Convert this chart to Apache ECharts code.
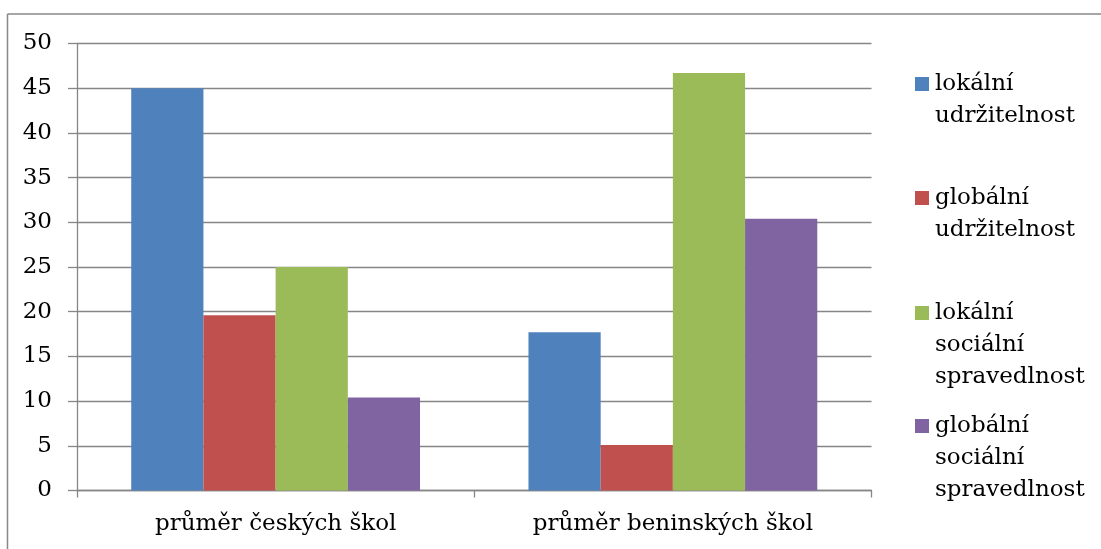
<!DOCTYPE html>
<html><head><meta charset="utf-8">
<script src="https://cdn.jsdelivr.net/npm/echarts@6/dist/echarts.min.js"></script>
<style>html,body{margin:0;padding:0;background:#fff;overflow:hidden}#c{width:1101px;height:549px}</style>
</head><body><div id="c"></div>
<script>
const categories = ['průměr českých škol', 'průměr beninských škol'];
const seriesNames = ['lokální udržitelnost', 'globální udržitelnost', 'lokální sociální spravedlnost', 'globální sociální spravedlnost'];
const legendLines = [['lokální','udržitelnost'], ['globální','udržitelnost'], ['lokální','sociální','spravedlnost'], ['globální','sociální','spravedlnost']];
const lokalniUdrzitelnost = [45.0, 17.7];
const globalniUdrzitelnost = [19.6, 5.1];
const lokalniSocialni = [25.0, 46.7];
const globalniSocialni = [10.4, 30.4];
const yTicks = [0, 5, 10, 15, 20, 25, 30, 35, 40, 45, 50];
const colors = ['#4F81BD', '#C0504D', '#9BBB59', '#8064A2'];

const FONT = 'DejaVu Serif';
const FS = 23;
const values = [lokalniUdrzitelnost, globalniUdrzitelnost, lokalniSocialni, globalniSocialni];
const legendTops = [36, 150, 233, 346];

const chart = echarts.init(document.getElementById('c'), null, {renderer: 'canvas'});
chart.setOption({
  animation: false,
  color: colors,
  graphic: [
    {type: 'line', shape: {x1: 7.5, y1: 14, x2: 1101, y2: 14}, style: {stroke: '#888888', lineWidth: 1.5}, silent: true, z: -10},
    {type: 'line', shape: {x1: 7.5, y1: 14, x2: 7.5, y2: 549}, style: {stroke: '#888888', lineWidth: 1.5}, silent: true, z: -10}
  ],
  grid: {left: 77, right: 229.5, top: 43.5, bottom: 58.5, containLabel: false},
  legend: seriesNames.map((n, i) => ({
    data: [n], orient: 'vertical', left: 915, top: legendTops[i], padding: 0,
    itemWidth: 14, itemHeight: 14, itemGap: 0, selectedMode: false,
    icon: 'rect',
    formatter: () => Array(legendLines[i].length - 1).fill('').concat(legendLines[i]).join('\n'),
    textStyle: {fontFamily: FONT, fontSize: FS, color: '#000', lineHeight: 32, padding: [0, 0, 0, 1]}
  })),
  xAxis: {
    type: 'category', data: categories,
    axisLine: {lineStyle: {color: '#868686', width: 1.3}},
    axisTick: {show: true, length: 7, alignWithLabel: false, lineStyle: {color: '#868686', width: 1.3}},
    axisLabel: {fontFamily: FONT, fontSize: FS, color: '#000', margin: 22}
  },
  yAxis: {
    type: 'value', min: 0, max: 50, interval: 5,
    axisLine: {show: true, lineStyle: {color: '#868686', width: 1.3}},
    axisTick: {show: true, length: 9, inside: false, lineStyle: {color: '#868686', width: 1.3}},
    splitLine: {show: true, lineStyle: {color: '#868686', width: 1.3}},
    axisLabel: {fontFamily: FONT, fontSize: FS, color: '#000', margin: 25,
      formatter: v => yTicks.includes(v) ? String(v) : ''}
  },
  series: seriesNames.map((n, i) => ({
    name: n, type: 'bar', data: values[i],
    barGap: '0%', barCategoryGap: '27.3%',
    itemStyle: {color: colors[i]}
  }))
});
</script></body></html>
